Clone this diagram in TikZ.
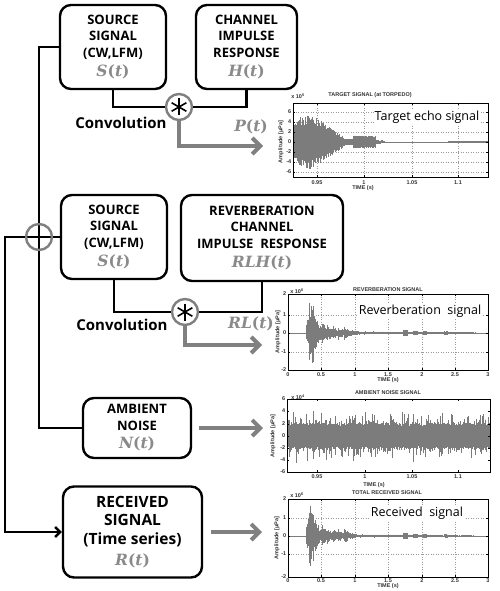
\documentclass[tikz,border=0pt]{standalone}
\usepackage{fontspec}
\setmainfont{Open Sans}
\newfontfamily\plotfont{Liberation Sans}
\newfontfamily\varfont{DejaVu Serif}
\usetikzlibrary{arrows.meta,calc}
\definecolor{lblgray}{HTML}{8A8A8A}
\definecolor{arrgray}{HTML}{808080}
\definecolor{wavegray}{HTML}{7C7C7C}
\definecolor{gridgray}{HTML}{9A9A9A}
\newcommand\fn[2]{{\color{lblgray}\varfont\fontsize{15.5}{17}\selectfont\bfseries\itshape #1\upshape(\itshape #2\upshape)}}
\newcommand\wavesig[6]{%
  \pgfmathtruncatemacro\wn{max(1,(#2-#1)/0.7)}%
  \foreach \i in {0,...,\wn}{%
    \pgfmathsetmacro\wf{\i/\wn}%
    \pgfmathsetmacro\wx{#1+(#2-#1)*\wf}%
    \pgfmathsetmacro\wa{#4+(#5-#4)*\wf}%
    \pgfmathsetmacro\wu{\wa*(1-#6*rnd)}%
    \pgfmathsetmacro\wd{\wa*(1-#6*rnd)}%
    \draw[wave] (\wx,#3-\wu) -- (\wx,#3+\wd);
  }}
\newcommand\noisesig[5]{%
  \pgfmathtruncatemacro\wn{(#2-#1)/0.5}%
  \foreach \i in {0,...,\wn}{%
    \pgfmathsetmacro\wf{\i/\wn}%
    \pgfmathsetmacro\wx{#1+(#2-#1)*\wf}%
    \pgfmathsetmacro\wu{#4*(0.75+0.25*rnd)+(rnd>0.55)*#5*rnd*rnd}%
    \pgfmathsetmacro\wd{#4*(0.75+0.25*rnd)+(rnd>0.55)*#5*rnd*rnd}%
    \draw[wave] (\wx,#3-\wu) -- (\wx,#3+\wd);
  }}
\begin{document}
\begin{tikzpicture}[x=1pt,y=-1pt,
  box/.style={draw=black,line width=2.4pt,rounded corners=11pt,fill=white,align=center,inner sep=0pt,font=\fontsize{13}{16.5}\selectfont\bfseries},
  bigbox/.style={box,font=\fontsize{15.5}{18.5}\selectfont\bfseries},
  opcircle/.style={circle,draw=arrgray,line width=2.4pt,fill=white,minimum size=26pt,inner sep=0pt},
  sumcircle/.style={opcircle,path picture={
     \draw[black,line width=2.4pt] (path picture bounding box.north) -- (path picture bounding box.south);
     \draw[black,line width=2.4pt] (path picture bounding box.west) -- (path picture bounding box.east);}},
  convcircle/.style={opcircle,path picture={
     \foreach \ang in {90,30,150}{\draw[black,line width=1.6pt] ($(path picture bounding box.center)+(\ang:8.5pt)$) -- ($(path picture bounding box.center)+(\ang+180:8.5pt)$);}}},
  conn/.style={draw=black,line width=2.4pt},
  garrow/.style={draw=arrgray,line width=4pt,-{Straight Barb[length=8pt,width=16pt]}},
  convlbl/.style={font=\fontsize{15}{18}\selectfont\bfseries,inner sep=0pt},
  varlbl/.style={inner sep=0pt},
  wave/.style={draw=wavegray,line width=0.8pt},
  grid/.style={draw=gridgray,line width=0.5pt,dotted},
  frame/.style={draw=black,line width=0.6pt},
  tick/.style={font=\plotfont\bfseries\fontsize{5.5}{6}\selectfont,inner sep=0.5pt,text=black!80},
  ptitle/.style={font=\plotfont\bfseries\fontsize{5.5}{6}\selectfont,inner sep=0pt,text=black!80},
  annot/.style={fill=white,inner sep=1pt,font=\fontsize{12.5}{15}\selectfont}
]
\fill[white] (0,0) rectangle (500,591);
\path[use as bounding box] (0,0) rectangle (500,591);
\pgfmathsetseed{7}

% ---------------- blocks ----------------
\node[box,minimum width=106pt,minimum height=84pt] (b1) at (113,47) {SOURCE\\SIGNAL\\(CW,LFM)\\[3pt]\fn{S}{t}};
\node[box,minimum width=101pt,minimum height=84pt] (b2) at (246.5,47) {CHANNEL\\IMPULSE\\RESPONSE\\[3pt]\fn{H}{t}};
\node[box,minimum width=106pt,minimum height=84pt] (b3) at (114,237) {SOURCE\\SIGNAL\\(CW,LFM)\\[3pt]\fn{S}{t}};
\node[box,minimum width=162pt,minimum height=86pt] (b4) at (262,238) {REVERBERATION\\CHANNEL\\IMPULSE~~RESPONSE\\[3pt]\fn{RLH}{t}};
\node[box,minimum width=108pt,minimum height=60pt] (b5) at (137,428) {AMBIENT\\NOISE\\[2pt]\fn{N}{t}};
\node[bigbox,minimum width=139pt,minimum height=91pt] (b6) at (132.5,532) {RECEIVED\\SIGNAL\\(Time series)\\[3pt]\fn{R}{t}};

\node[convcircle] (c1) at (179,107) {};
\node[convcircle] (c2) at (185,312) {};
\node[sumcircle] (sumop) at (39,237) {};

\node[convlbl] (cl1) at (121,123) {Convolution};
\node[convlbl] (cl2) at (122,325) {Convolution};
\node[varlbl] (pl1) at (251,127) {\fn{P}{t}};
\node[varlbl] (pl2) at (251,324) {\fn{RL}{t}};

\coordinate (lc) at (5,237);
\coordinate (p1in) at (263,146);
\coordinate (p2in) at (262,345);
\coordinate (p3in) at (263,428);
\coordinate (p4in) at (262,532);

% ---------------- connectors ----------------
\draw[conn] (b1.west) -| (sumop.north);
\draw[conn] (sumop.east) -- (b3.west);
\draw[conn,-{Straight Barb[length=5pt,width=10pt]}] (sumop.west) -- (lc) |- (b6.west);
\draw[conn] (sumop.south) |- (b5.west);
\draw[conn] (b1.south) |- (c1.west);
\draw[conn] (b2.south) |- (c1.east);
\draw[conn] (b3.south) |- (c2.west);
\draw[conn] (b4.south) |- (c2.east);
\draw[garrow] (c1.south) |- (p1in);
\draw[garrow] (c2.south) |- (p2in);
\draw[garrow,shorten <=7pt] (b5.east) -- (p3in);
\draw[garrow,shorten <=8pt] (b6.east) -- (p4in);

% ---------------- plot 1 : target signal ----------------
\foreach \gx in {317,364,412,458} \draw[grid] (\gx,103) -- (\gx,177);
\foreach \gy in {112,122,132,152,162,172} \draw[grid] (293,\gy) -- (488,\gy);
\draw[wave] (294,142) -- (488,142);
\wavesig{294}{300}{142}{16}{24}{0.15}
\wavesig{300}{309}{142}{25}{30}{0.4}
\wavesig{309}{344}{142}{29}{5}{0.35}
\wavesig{344}{353}{142}{3}{3}{0.2}
\wavesig{353}{375}{142}{6.5}{6}{0.15}
\wavesig{375}{384}{142}{2}{1.5}{0.3}
\wavesig{448}{488}{142}{1}{1}{0.3}
\node[annot] (a1) at (427,117) {Target echo signal};
\draw[frame] (293,103) rectangle (488,177);
\foreach \gx/\lab [count=\k] in {317/0.95,364/1,412/1.05,458/1.1}{
  \draw[frame] (\gx,177) -- (\gx,175); \draw[frame] (\gx,103) -- (\gx,105);
  \node[tick] (p1x\k) at (\gx,183) {\lab};}
\foreach \gy/\lab [count=\k] in {112/6,122/4,132/2,142/0,152/-2,162/-4,172/-6}{
  \draw[frame] (293,\gy) -- (295,\gy); \draw[frame] (488,\gy) -- (486,\gy);
  \node[tick,anchor=east] (p1y\k) at (292,\gy) {\lab};}
\node[ptitle] (p1t) at (370,95) {TARGET SIGNAL (at TORPEDO)};
\node[tick] (p1e) at (298,96) {x 10\textsuperscript{5}};
\node[tick] (p1xl) at (363,188) {TIME (s)};
\node[tick,rotate=90] (p1yl) at (281,142) {Amplitude [μPa]};

% ---------------- plot 2 : reverberation ----------------
\foreach \gx in {321,355,388,422,455} \draw[grid] (\gx,294) -- (\gx,370);
\foreach \gy in {315,352} \draw[grid] (288,\gy) -- (488,\gy);
\draw[wave] (288,333) -- (488,333);
\wavesig{306}{309}{333}{8}{20}{0.5}
\wavesig{309}{313}{333}{32}{30}{0.5}
\wavesig{313}{318}{333}{24}{11}{0.5}
\wavesig{318}{322}{333}{9}{6}{0.5}
\wavesig{322}{327}{333}{12}{5}{0.5}
\wavesig{327}{333}{333}{9}{4}{0.5}
\wavesig{333}{338}{333}{8}{3}{0.5}
\wavesig{338}{344}{333}{7}{3}{0.5}
\wavesig{344}{350}{333}{7}{2.5}{0.5}
\wavesig{350}{360}{333}{3}{1.8}{0.5}
\wavesig{360}{475}{333}{1.6}{1.1}{0.6}
\wavesig{403}{407}{333}{3.5}{3.5}{0.2}
\wavesig{413}{417}{333}{2.5}{2.5}{0.2}
\wavesig{423}{426}{333}{2}{2}{0.2}
\wavesig{444}{447}{333}{1.8}{1.8}{0.2}
\node[annot] (a2) at (420,311) {Reverberation~ signal};
\draw[frame] (288,294) rectangle (488,370);
\foreach \gx/\lab [count=\k] in {288/0,321/0.5,355/1,388/1.5,422/2,455/2.5,488/3}{
  \draw[frame] (\gx,370) -- (\gx,368); \draw[frame] (\gx,294) -- (\gx,296);
  \node[tick] (p2x\k) at (\gx,375) {\lab};}
\foreach \gy/\lab [count=\k] in {294/2,315/1,333/0,352/-1,370/-2}{
  \draw[frame] (288,\gy) -- (290,\gy); \draw[frame] (488,\gy) -- (486,\gy);
  \node[tick,anchor=east] (p2y\k) at (287,\gy) {\lab};}
\node[ptitle] (p2t) at (388,290) {REVERBERATION SIGNAL};
\node[tick] (p2e) at (297,291) {x 10\textsuperscript{6}};
\node[tick] (p2xl) at (388,380.5) {TIME (s)};
\node[tick,rotate=90] (p2yl) at (278,332) {Amplitude [μPa]};

% ---------------- plot 3 : ambient noise ----------------
\noisesig{288}{489}{436}{13}{15}
\draw[frame] (287,399) rectangle (490,472);
\foreach \gx/\lab [count=\k] in {317/0.95,365/1,412/1.05,458/1.1}{
  \draw[frame] (\gx,472) -- (\gx,470); \draw[frame] (\gx,399) -- (\gx,401);
  \node[tick] (p3x\k) at (\gx,477) {\lab};}
\foreach \gy/\lab [count=\k] in {399/6,411/4,424/2,436/0,448/-2,460/-4,472/-6}{
  \draw[frame] (287,\gy) -- (289,\gy); \draw[frame] (490,\gy) -- (488,\gy);
  \node[tick,anchor=east] (p3y\k) at (286,\gy) {\lab};}
\node[ptitle] (p3t) at (388,393) {AMBIENT NOISE SIGNAL};
\node[tick] (p3e) at (298,397) {x 10\textsuperscript{4}};
\node[tick] (p3xl) at (374,485) {TIME (s)};
\node[tick,rotate=90] (p3yl) at (273,436) {Amplitude [μPa]};

% ---------------- plot 4 : total received ----------------
\foreach \gx in {321,355,388,422,455} \draw[grid] (\gx,499) -- (\gx,577);
\foreach \gy in {518,554} \draw[grid] (288,\gy) -- (488,\gy);
\draw[wave] (288,536) -- (488,536);
\wavesig{306}{309}{536}{8}{20}{0.5}
\wavesig{309}{313}{536}{32}{30}{0.5}
\wavesig{313}{318}{536}{24}{11}{0.5}
\wavesig{318}{322}{536}{9}{6}{0.5}
\wavesig{322}{327}{536}{12}{5}{0.5}
\wavesig{327}{333}{536}{9}{4}{0.5}
\wavesig{333}{338}{536}{8}{3}{0.5}
\wavesig{338}{344}{536}{7}{3}{0.5}
\wavesig{344}{350}{536}{8}{2.5}{0.5}
\wavesig{350}{360}{536}{3}{1.8}{0.5}
\wavesig{360}{475}{536}{1.6}{1.1}{0.6}
\wavesig{403}{407}{536}{3.5}{3.5}{0.2}
\wavesig{413}{417}{536}{2.5}{2.5}{0.2}
\wavesig{423}{426}{536}{2}{2}{0.2}
\wavesig{444}{447}{536}{1.8}{1.8}{0.2}
\node[annot] (a4) at (417,513) {Received~ signal};
\draw[frame] (288,499) rectangle (488,577);
\foreach \gx/\lab [count=\k] in {288/0,321/0.5,355/1,388/1.5,422/2,455/2.5,488/3}{
  \draw[frame] (\gx,577) -- (\gx,575); \draw[frame] (\gx,499) -- (\gx,501);
  \node[tick] (p4x\k) at (\gx,581) {\lab};}
\foreach \gy/\lab [count=\k] in {499/2,518/1,536/0,554/-1,577/-2}{
  \draw[frame] (288,\gy) -- (290,\gy); \draw[frame] (488,\gy) -- (486,\gy);
  \node[tick,anchor=east] (p4y\k) at (287,\gy) {\lab};}
\node[ptitle] (p4t) at (387,493) {TOTAL RECEIVED SIGNAL};
\node[tick] (p4e) at (297,495) {x 10\textsuperscript{6}};
\node[tick] (p4xl) at (388,586) {TIME (s)};
\node[tick,rotate=90] (p4yl) at (277,538) {Amplitude [μPa]};
\end{tikzpicture}
\end{document}
